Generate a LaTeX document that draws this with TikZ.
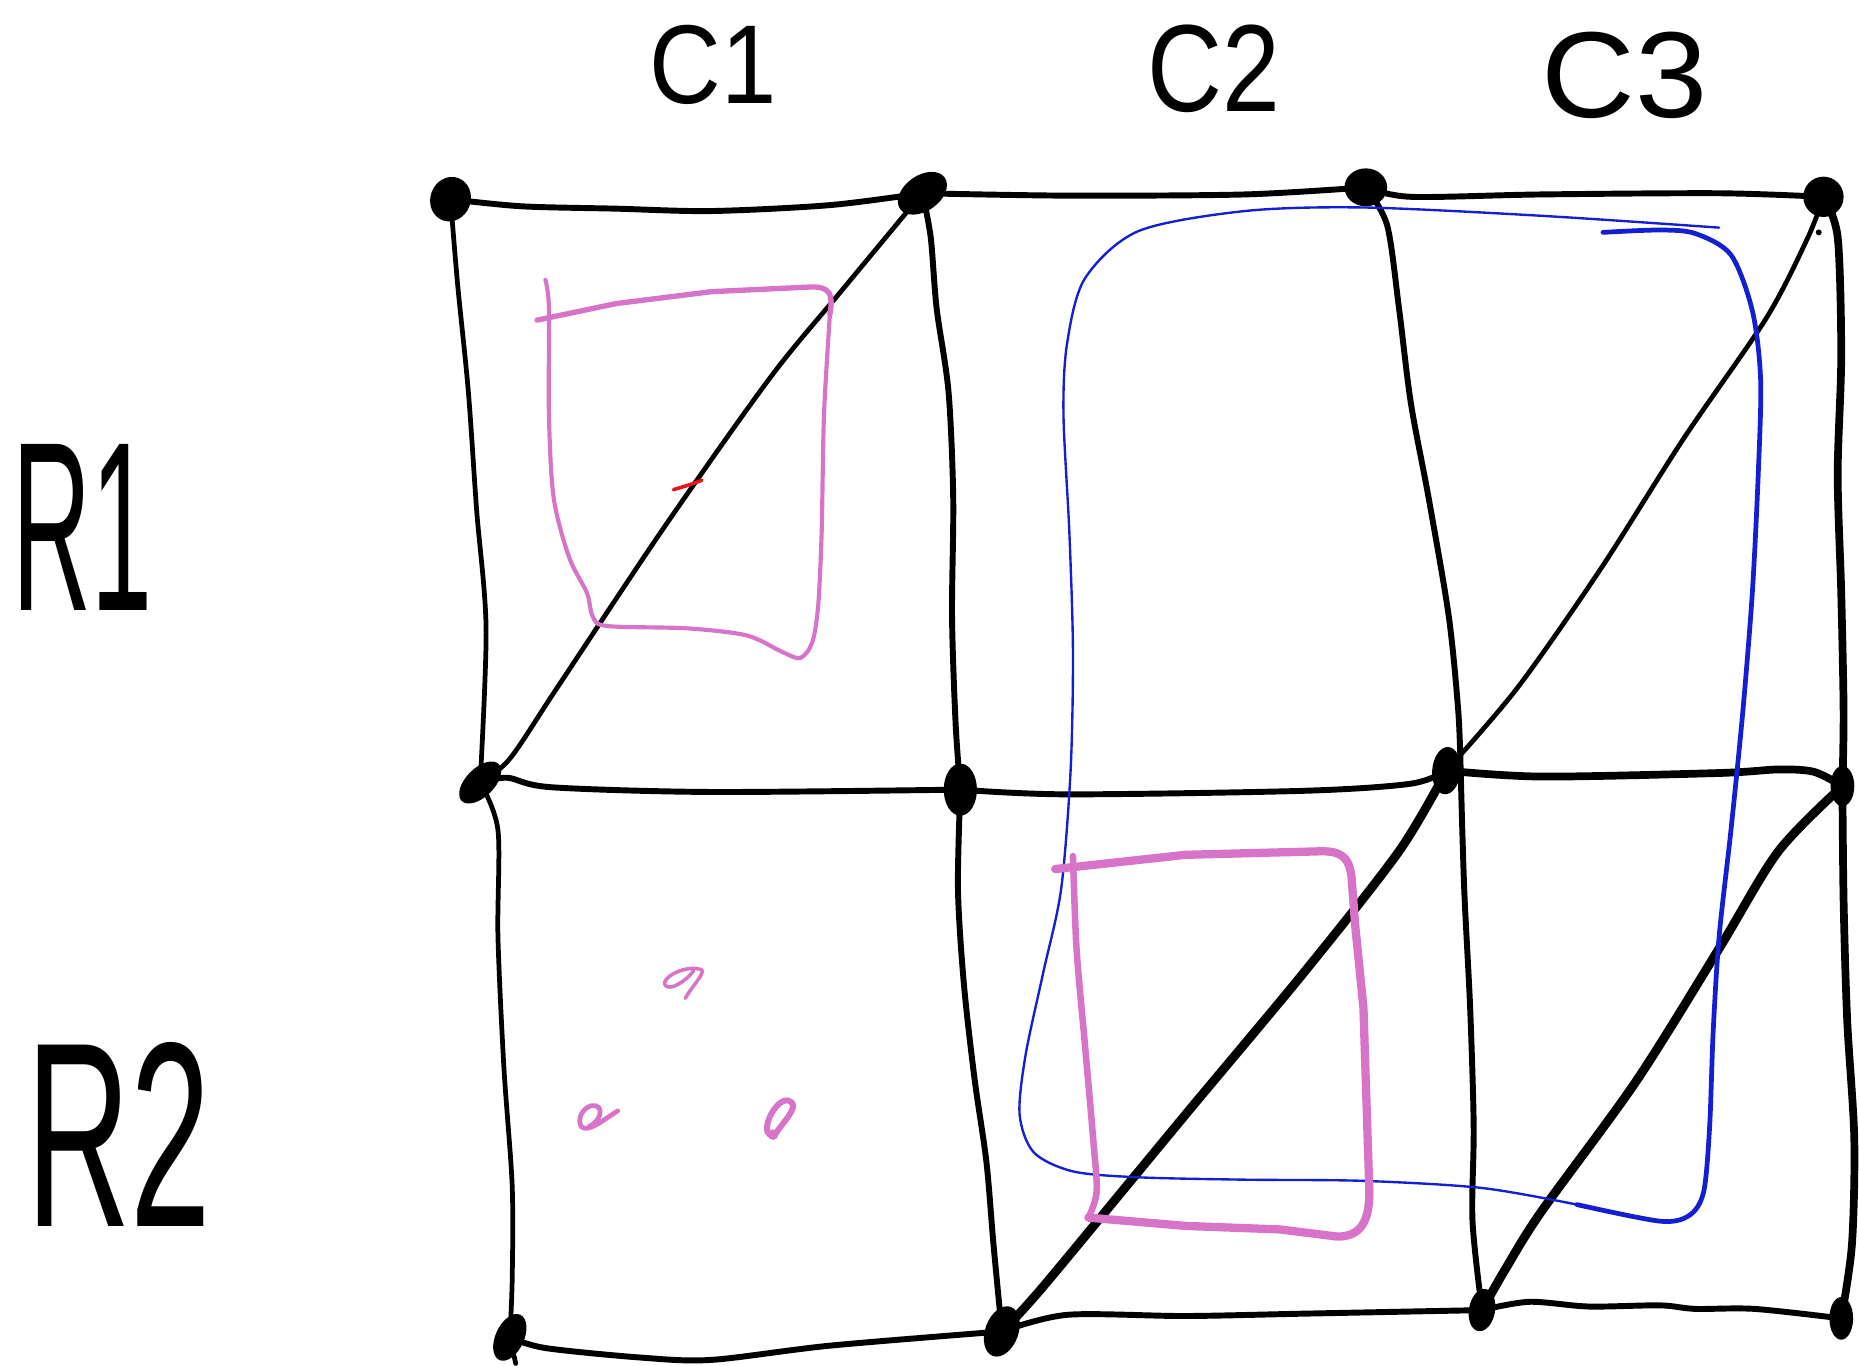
\documentclass[tikz,border=0pt]{standalone}
\usepackage{fontspec}
\usepackage{graphicx}
\setmainfont{Liberation Sans}
\usetikzlibrary{shapes.geometric}
\definecolor{pinkink}{RGB}{216,116,200}
\definecolor{blueink}{RGB}{20,30,210}
\definecolor{redink}{RGB}{235,20,20}
\begin{document}
\begin{tikzpicture}[x=1pt,y=-1pt,
  gridline/.style={line width=5pt, line cap=round, line join=round},
  heavyline/.style={line width=6.5pt, line cap=round, line join=round},
  diagthin/.style={line width=4pt, line cap=round, line join=round},
  diagheavy/.style={line width=7.5pt, line cap=round, line join=round},
  dotnode/.style={ellipse, fill=black, inner sep=0pt},
  pinkthin/.style={draw=pinkink, line width=3.5pt, line cap=round, line join=round},
  pinkthick/.style={draw=pinkink, line width=7pt, line cap=round, line join=round},
  blueline/.style={draw=blueink, line cap=round, line join=round},
  lbl/.style={inner sep=0pt, anchor=south west}
]
\useasboundingbox (0,0) rectangle (1568,1152);

% grid nodes
\node[dotnode, minimum width=34pt, minimum height=38pt, rotate=-20] (n11) at (380,168) {};
\node[dotnode, minimum width=46pt, minimum height=30pt, rotate=35] (n12) at (778,163) {};
\node[dotnode, minimum width=36pt, minimum height=32pt] (n13) at (1152,158) {};
\node[dotnode, minimum width=34pt, minimum height=34pt] (n14) at (1538,166) {};
\node[dotnode, minimum width=44pt, minimum height=24pt, rotate=45] (n21) at (405,660) {};
\node[dotnode, minimum width=28pt, minimum height=44pt] (n22) at (810,666) {};
\node[dotnode, minimum width=24pt, minimum height=40pt, rotate=-5] (n23) at (1220,650) {};
\node[dotnode, minimum width=20pt, minimum height=34pt] (n24) at (1554,663) {};
\node[dotnode, minimum width=24pt, minimum height=42pt, rotate=-25] (n31) at (430,1128) {};
\node[dotnode, minimum width=28pt, minimum height=44pt, rotate=-20] (n32) at (845,1123) {};
\node[dotnode, minimum width=22pt, minimum height=36pt, rotate=-10] (n33) at (1250,1105) {};
\node[dotnode, minimum width=20pt, minimum height=36pt] (n34) at (1553,1112) {};
\coordinate (tail) at (435,1150);

% rows
\draw[gridline] plot[smooth] coordinates {(n11.center) (440,174) (520,176) (600,178) (700,173) (n12.center)};
\draw[gridline] plot[smooth] coordinates {(n12.center) (900,165) (1050,164) (n13.center)};
\draw[gridline] plot[smooth] coordinates {(n13.center) (1190,166) (1300,164) (1450,163) (n14.center)};
\draw[gridline] plot[smooth] coordinates {(n21.center) (428,656) (465,664) (600,668) (n22.center)};
\draw[gridline] plot[smooth] coordinates {(n22.center) (900,670) (1100,667) (1190,661) (n23.center)};
\draw[heavyline] plot[smooth] coordinates {(n23.center) (1300,655) (1450,652) (1500,649) (1530,651) (n24.center)};
\draw[gridline] plot[smooth] coordinates {(n31.center) (460,1137) (540,1145) (600,1147) (700,1135) (n32.center)};
\draw[gridline] plot[smooth] coordinates {(n32.center) (900,1109) (1000,1110) (1100,1108) (n33.center)};
\draw[gridline] plot[smooth] coordinates {(n33.center) (1290,1098) (1340,1102) (1400,1101) (1430,1104) (1480,1104) (n34.center)};

% columns
\draw[diagthin] plot[smooth] coordinates {(n11.center) (386,240) (395,330) (402,430) (410,530) (n21.center)};
\draw[diagthin] plot[smooth] coordinates {(n21.center) (420,700) (420,790) (425,900) (432,1000) (432,1080) (n31.center)};
\draw[diagthin] (n31.center) -- (tail);
\draw[gridline] plot[smooth] coordinates {(n12.center) (785,200) (790,260) (800,330) (804,420) (803,520) (806,610) (n22.center)};
\draw[gridline] plot[smooth] coordinates {(n22.center) (808,750) (813,830) (822,910) (832,980) (838,1050) (n32.center)};
\draw[gridline] plot[smooth] coordinates {(n13.center) (1170,190) (1180,260) (1190,340) (1205,420) (1222,520) (1230,600) (1232,650)};
\draw[gridline] plot[smooth] coordinates {(1232,650) (1235,750) (1240,850) (1243,950) (1242,1030) (n33.center)};
\draw[heavyline] plot[smooth] coordinates {(n14.center) (1550,200) (1553,300) (1550,400) (1553,500) (1555,600) (n24.center)};
\draw[heavyline] plot[smooth] coordinates {(n24.center) (1555,760) (1558,860) (1564,960) (1562,1050) (n34.center)};

% diagonals
\draw[diagthin] plot[smooth] coordinates {(n21.center) (430,640) (470,580) (560,445) (650,318) (710,245) (n12.center)};
\draw[diagthin] plot[smooth] coordinates {(n23.center) (1280,580) (1350,480) (1420,370) (1490,268) (1525,200) (n14.center)};
\draw[diagheavy] plot[smooth] coordinates {(n32.center) (880,1085) (1000,940) (1100,820) (1180,718) (n23.center)};
\draw[diagheavy] plot[smooth] coordinates {(n33.center) (1270,1070) (1300,1022) (1380,912) (1450,800) (1500,718) (n24.center)};
\fill (1534,196) circle (2.5);

% pink box in R1C1
\draw[pinkthin] plot[smooth] coordinates {(460,236) (463,260) (463,350) (467,420) (480,470) (495,500) (500,520) (512,528) (580,530) (630,536) (660,550) (675,555) (685,542) (690,512) (693,450) (695,350) (700,265)};
\draw[pinkthin, line width=4.5pt] (700,265) .. controls (703,248) and (700,242) .. (685,242) -- (600,246) -- (520,256) -- (453,270);

% blue loop
\draw[blueline, line width=2pt] plot[smooth] coordinates {(1450,192) (1300,182) (1150,175) (1050,178) (960,195) (915,235) (900,290) (897,350) (902,450) (905,550) (903,650) (895,750) (880,820) (865,890) (860,940) (872,972) (905,988) (960,993) (1050,995) (1150,996) (1250,1002) (1330,1016)};
\draw[blueline, line width=4pt] plot[smooth] coordinates {(1330,1016) (1400,1030) (1425,1025) (1437,1005) (1442,950) (1445,870) (1450,790) (1460,700) (1470,600) (1478,500) (1483,400) (1485,320) (1478,262) (1460,215) (1430,197) (1400,194) (1352,196)};

% pink box in R2C2
\draw[pinkthick, line width=5.5pt] plot[smooth] coordinates {(905,722) (908,800) (915,880) (922,960) (925,1005) (918,1027)};
\draw[pinkthick] (918,1027) -- (1000,1034) -- (1080,1037) -- (1128,1043) .. controls (1148,1043) and (1155,1030) .. (1155,1005) -- (1150,850) -- (1143,780) -- (1140,740) .. controls (1138,722) and (1130,718) .. (1115,718) -- (1000,721) -- (890,733);

% small pink marks
\draw[pinkthin, line width=3pt] (578,842) .. controls (585,830) and (594,822) .. (592,818) .. controls (578,813) and (557,825) .. (561,831) .. controls (565,836) and (578,828) .. (585,819);
\draw[pinkthin, line width=4pt] (521,937) .. controls (508,945) and (496,956) .. (490,950) .. controls (485,940) and (498,928) .. (505,934) .. controls (509,940) and (502,948) .. (497,950);
\draw[pinkthin, line width=5pt] (668,930) .. controls (660,922) and (648,940) .. (647,950) .. controls (646,958) and (652,960) .. (655,955) .. controls (662,945) and (672,935) .. (668,930);
\fill[pinkink] (652,957) circle (4.5);

% red mark
\draw[redink, line width=3pt, line cap=round] (568,413) .. controls (578,410) and (585,408) .. (592,405);

% labels
\node[lbl] (c1) at (548,88) {\resizebox{107pt}{66pt}{C1}};
\node[lbl] (c2) at (968,95) {\resizebox{112pt}{73pt}{C2}};
\node[lbl] (c3) at (1300,100) {\resizebox{140pt}{72pt}{C3}};
\node[lbl] (r1) at (10,515) {\resizebox{118pt}{140pt}{R1}};
\node[lbl] (r2) at (22,1035) {\resizebox{156pt}{155pt}{R2}};
\end{tikzpicture}
\end{document}
